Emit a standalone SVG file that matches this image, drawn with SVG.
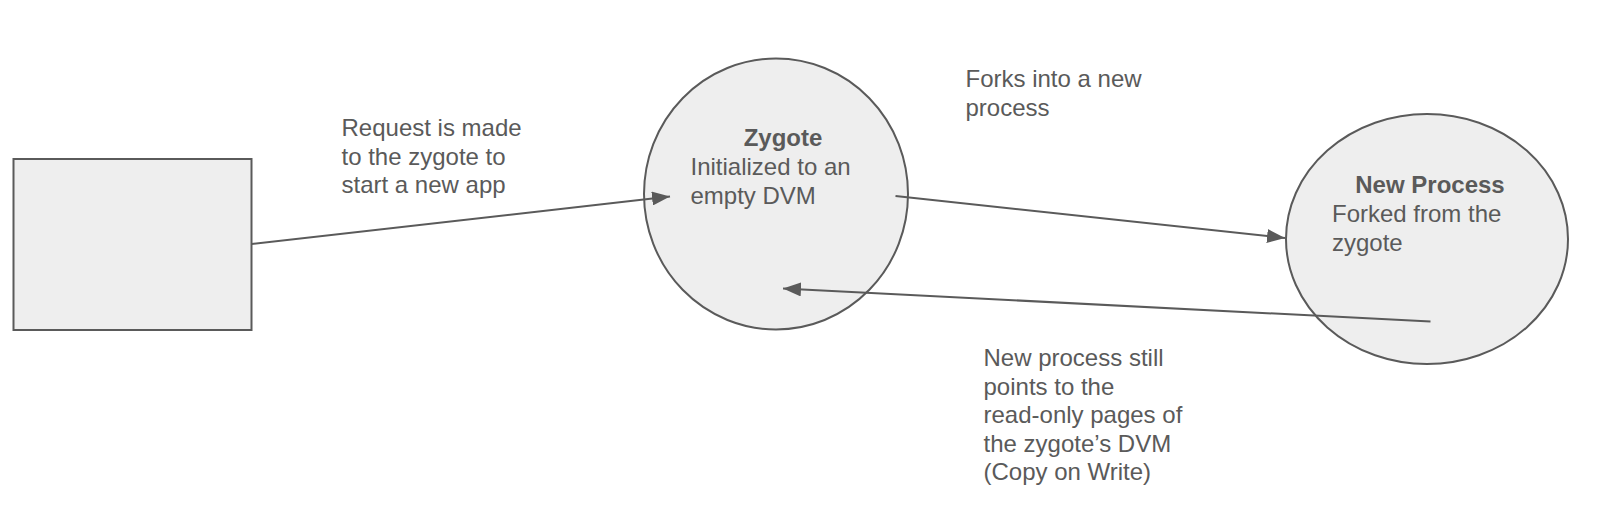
<svg xmlns="http://www.w3.org/2000/svg" width="1616" height="519" viewBox="0 0 1616 519">
<style>
.shape{fill:#eeeeee;stroke:#5a5a5a;stroke-width:2}
.t{font-family:"Liberation Sans",Arial,sans-serif;font-size:24px;fill:#5a5a5a}
.b{font-weight:bold}
.c{fill:none;stroke:#5a5a5a;stroke-width:2}
</style>
<defs>
<marker id="arr" viewBox="0 0 18 14" refX="18" refY="7" markerWidth="18" markerHeight="14" markerUnits="userSpaceOnUse" orient="auto">
<path d="M0,0 L18,7 L0,14 Z" fill="#5a5a5a"/>
</marker>
</defs>
<rect width="1616" height="519" fill="#ffffff"/>
<g id="app">
<rect class="shape" x="13.5" y="159" width="238" height="171"/>
</g>
<g id="zygote">
<ellipse class="shape" cx="776" cy="194" rx="132" ry="135.5"/>
<text class="t b" x="783" y="146" text-anchor="middle">Zygote</text>
<text class="t" x="690.5" y="175">Initialized to an</text>
<text class="t" x="690.5" y="204">empty DVM</text>
</g>
<g id="newprocess">
<ellipse class="shape" cx="1427" cy="239" rx="141" ry="125"/>
<text class="t b" x="1430" y="193" text-anchor="middle">New Process</text>
<text class="t" x="1332" y="222">Forked from the</text>
<text class="t" x="1332" y="250.5">zygote</text>
</g>
<g id="connectors">
<line class="c" x1="251.5" y1="244" x2="670" y2="196.5" marker-end="url(#arr)"/>
<line class="c" x1="895.5" y1="196" x2="1285" y2="238" marker-end="url(#arr)"/>
<line class="c" x1="1430.5" y1="321.5" x2="783" y2="288.5" marker-end="url(#arr)"/>
</g>
<g id="labels">
<text class="t" x="341.5" y="136">Request is made</text>
<text class="t" x="341.5" y="164.5">to the zygote to</text>
<text class="t" x="341.5" y="193">start a new app</text>
<text class="t" x="965.5" y="87">Forks into a new</text>
<text class="t" x="965.5" y="115.5">process</text>
<text class="t" x="983.5" y="366">New process still</text>
<text class="t" x="983.5" y="394.5">points to the</text>
<text class="t" x="983.5" y="423">read-only pages of</text>
<text class="t" x="983.5" y="451.5">the zygote’s DVM</text>
<text class="t" x="983.5" y="480">(Copy on Write)</text>
</g>
</svg>
